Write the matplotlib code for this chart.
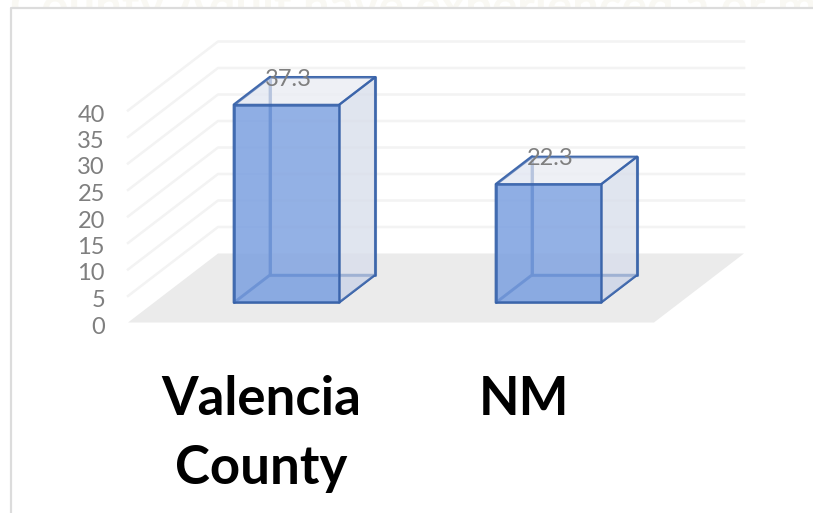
import matplotlib
matplotlib.use('Agg')
import matplotlib.pyplot as plt
from matplotlib.patches import Polygon, Rectangle

categories = ['Valencia\nCounty', 'NM']
values = [37.3, 22.3]
value_labels = ['37.3', '22.3']
ticks = [0, 5, 10, 15, 20, 25, 30, 35, 40]
ghost_title = 'County Adult have experienced a or m'

# pixel layout of the fake 3d box
Y0 = 322.5
PX_PER_UNIT = 5.3
DEPTH_X = 90
DEPTH_Y = -69
FLOOR_LEFT = 128
FLOOR_RIGHT = 654
BAR_LEFT = [208, 470]
BAR_W = 105
BAR_D0 = 0.29   # where the bar starts in the depth
BAR_D1 = 0.69

EDGE = '#3560a8'
GREY = '#7f7f7f'


def proj(x, val, depth):
    # x in pixels at the front, value in data units, depth 0..1
    return (x + DEPTH_X * depth, Y0 - val * PX_PER_UNIT + DEPTH_Y * depth)


def face(ax, pts, fc, alpha, z, ec=None, lw=0):
    ax.add_patch(Polygon(pts, closed=True, facecolor=fc, edgecolor='none',
                         alpha=alpha, zorder=z))
    if ec:
        ax.add_patch(Polygon(pts, closed=True, fill=False, edgecolor=ec,
                             linewidth=lw, alpha=0.8, zorder=z + 0.5,
                             joinstyle='round'))


fig = plt.figure(figsize=(8.13, 5.13), dpi=100)
ax = fig.add_axes([0, 0, 1, 1])
ax.set_xlim(0, 813)
ax.set_ylim(513, 0)
ax.axis('off')

# slide title showing behind the chart, cut off by the frame
ax.text(10, 22, ghost_title, ha='left', va='baseline', fontsize=34,
        fontweight='bold', family='Lato', color='#f9f8f3', zorder=0)
ax.add_patch(Rectangle((10.5, 7.5), 803, 506, facecolor='white',
                       edgecolor='none', zorder=0.5))

# frame of the screenshot
ax.plot([10.5, 10.5, 813], [513, 7.5, 7.5], color='#dcdcdc', lw=1.6, zorder=1)

# floor
face(ax, [proj(FLOOR_LEFT, 0, 0), proj(FLOOR_RIGHT, 0, 0),
          proj(FLOOR_RIGHT, 0, 1), proj(FLOOR_LEFT, 0, 1)], '#ebebeb', 1, 2)

# gridlines on the side and back wall
for t in ticks[1:]:
    xs, ys = zip(proj(FLOOR_LEFT, t, 0), proj(FLOOR_LEFT, t, 1),
                 proj(FLOOR_RIGHT, t, 1))
    ax.plot(xs, ys, color='#f3f3f3', lw=1.8, zorder=2)

for t in ticks:
    x, y = proj(FLOOR_LEFT, t, 0)
    ax.text(x - 23, y + 4.5, str(t), ha='right', va='center', fontsize=17,
            color=GREY, family='Lato', zorder=6)

# bars, transparent boxes
for left, val, lab, cat in zip(BAR_LEFT, values, value_labels, categories):
    right = left + BAR_W
    a = proj(left, 0, BAR_D0)
    b = proj(right, 0, BAR_D0)
    c = proj(right, val, BAR_D0)
    d = proj(left, val, BAR_D0)
    a2 = proj(left, 0, BAR_D1)
    b2 = proj(right, 0, BAR_D1)
    c2 = proj(right, val, BAR_D1)
    d2 = proj(left, val, BAR_D1)
    # back faces
    face(ax, [a2, b2, c2, d2], '#e6e9f1', 0.4, 3, EDGE, 2.2)
    face(ax, [a, a2, d2, d], '#a8bfe8', 0.35, 3, EDGE, 2.2)
    face(ax, [a, b, b2, a2], '#8da9dc', 0.35, 3, EDGE, 1.6)
    # right side and top
    face(ax, [b, b2, c2, c], '#d6dcea', 0.65, 4, EDGE, 1.6)
    face(ax, [d, c, c2, d2], '#eceef4', 0.7, 4, EDGE, 1.6)
    # front
    face(ax, [a, b, c, d], '#7ba0e0', 0.8, 5, EDGE, 1.8)
    tx, ty = proj(left, val, BAR_D1)
    ax.text(tx + 18.5, ty + 2, lab, ha='center', va='center', fontsize=17,
            color=GREY, family='Lato', zorder=7)
    ax.text((left + right) / 2 + 1, 375, cat, ha='center', va='top',
            fontsize=38, fontweight='bold', family='Lato', color='black',
            linespacing=1.5, zorder=7)

fig.savefig('out.png', dpi=100)
